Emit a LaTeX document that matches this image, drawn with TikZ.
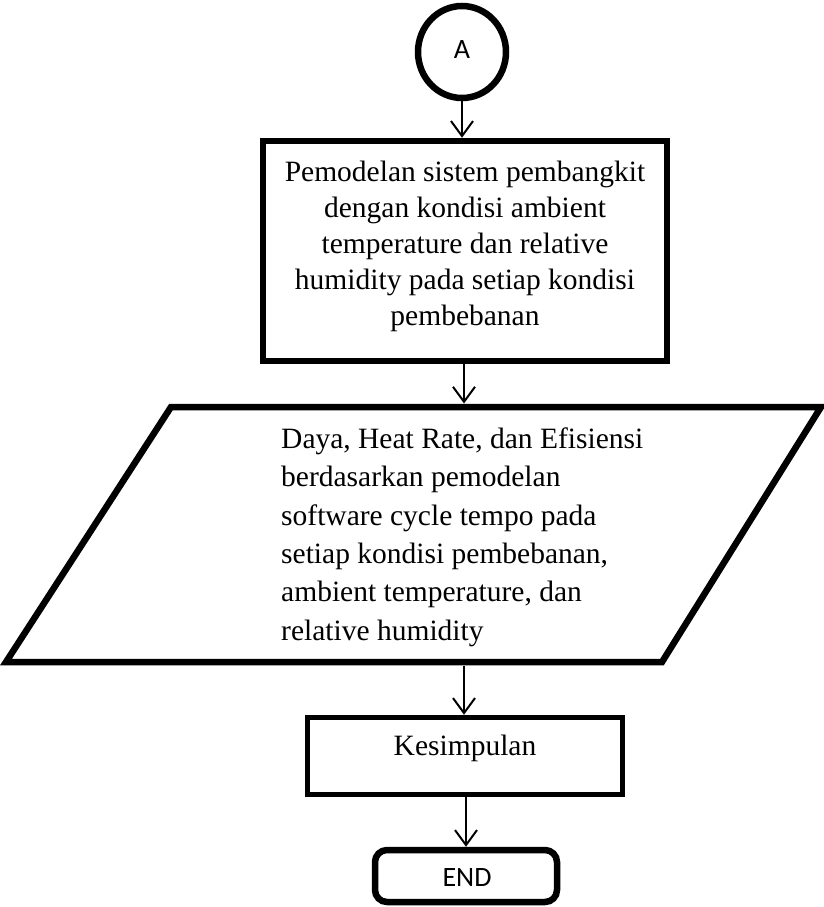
\documentclass[tikz,border=0pt]{standalone}
\usepackage{fontspec}
\setmainfont{Liberation Serif}
\newfontfamily\calib{Carlito}
\usetikzlibrary{arrows.meta,shapes.geometric}
\begin{document}
\begin{tikzpicture}[x=1pt,y=-1pt,
  boxstyle/.style={draw=black,line width=6.5pt,fill=white,inner sep=0pt},
  conn/.style={draw=black,line width=2pt,-{Straight Barb[length=15pt,width=22pt,line width=2pt]}},
  bodytext/.style={font=\fontsize{29.5}{36}\selectfont,inner sep=0pt},
  sanstext/.style={font=\calib\fontsize{28}{32}\selectfont,inner sep=0pt}]
\useasboundingbox (0,0) rectangle (824,907);
% connector A
\node[boxstyle,ellipse,minimum width=88pt,minimum height=92pt] (A) at (462,52) {};
\node[sanstext] (Atxt) at (462,50) {A};
% process box 1
\node[boxstyle,minimum width=404pt,minimum height=220pt] (b1) at (465,251) {};
\node[bodytext,align=center] (b1t) at (465,246) {Pemodelan sistem pembangkit\\dengan kondisi ambient\\temperature dan relative\\humidity pada setiap kondisi\\pembebanan};
% parallelogram (data)
\draw[line width=6.5pt,line join=miter,fill=white] (171,407) -- (821,407) -- (662,662) -- (6,662) -- cycle;
\coordinate (ptop) at (464,403.5);
\coordinate (pbot) at (464,665.5);
\node[font=\fontsize{29.5}{38.4}\selectfont,inner sep=0pt,align=left,anchor=west] (dt) at (281,537) {Daya, Heat Rate, dan Efisiensi\\berdasarkan pemodelan\\software cycle tempo pada\\setiap kondisi pembebanan,\\ambient temperature, dan\\relative humidity};
% Kesimpulan
\node[boxstyle,line width=5.5pt,minimum width=315pt,minimum height=77pt] (k) at (465,756) {};
\node[bodytext] (kt) at (465,748) {Kesimpulan};
% END
\node[boxstyle,rounded corners=12pt,minimum width=182pt,minimum height=52pt] (e) at (466,876) {};
\node[sanstext] (et) at (467,878) {END};
% connectors
\draw[conn] (A.south) -- (A.south |- b1.north);
\draw[conn] (b1.south -| ptop) -- (ptop);
\draw[conn] (pbot) -- (pbot |- k.north);
\draw[conn] (k.south -| e.north) -- (e.north);
\end{tikzpicture}
\end{document}
